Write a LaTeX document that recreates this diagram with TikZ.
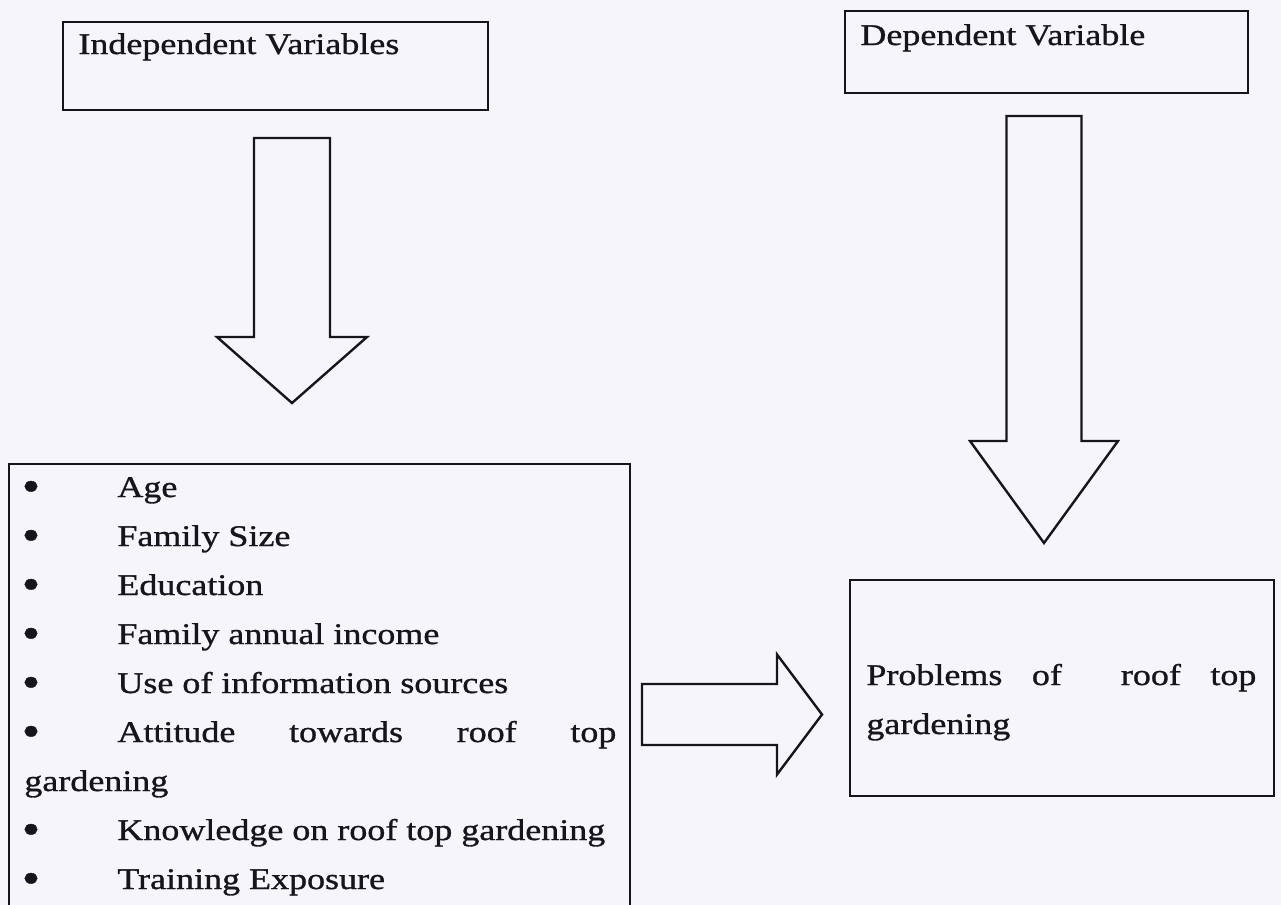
\documentclass[tikz,border=0pt]{standalone}
\usepackage{fontspec}
\setmainfont{Liberation Serif}[FakeStretch=1.2,FakeBold=1]
\usetikzlibrary{calc}
\definecolor{bgColor}{RGB}{246,245,251}
\definecolor{lineColor}{RGB}{22,22,26}

\begin{document}
\begin{tikzpicture}
[boxDecorate/.style={draw=lineColor,line width=1.2pt,inner sep=0pt,anchor=north west},%
  arrowDecorate/.style={draw=lineColor,line width=1.2pt,line join=miter},%
  textDecorate/.style={anchor=base west,inner sep=0pt,text=lineColor,%
    font=\fontsize{15pt}{24.5pt}\selectfont},%
  bulletDecorate/.style={anchor=center,inner sep=0pt,text=lineColor,%
    font=\fontsize{22pt}{22pt}\selectfont},%
  x=0.5pt,y=-0.5pt]
%%
\useasboundingbox (0,0) rectangle (1281,905);
\fill[bgColor] (0,0) rectangle (1281,905);
\clip (0,0) rectangle (1281,905);
%%
%% boxes
\node (indepBox) at (62,21) [boxDecorate,minimum width=212.5pt,minimum height=43.75pt] {};
\node (depBox) at (844,10) [boxDecorate,minimum width=201.5pt,minimum height=41pt] {};
\node (listBox) at (8,463) [boxDecorate,minimum width=310.5pt,minimum height=240pt] {};
\node (probBox) at (849,579) [boxDecorate,minimum width=212pt,minimum height=108pt] {};
%% texts in the boxes
\node (indepTitle) at (78,54) [textDecorate] {Independent Variables};
\node (depTitle) at (860,45) [textDecorate] {Dependent Variable};
\node (probLine1) at (866,685) [textDecorate] {\makebox[195pt][s]{Problems of\ \ roof top}};
\node (probLine2) at (866,734) [textDecorate] {gardening};
%%
%% list of independent variables
\foreach \row/\vartext in {
  0/Age, 1/Family Size, 2/Education, 3/Family annual income,
  4/Use of information sources,
  5/{\makebox[249.5pt][s]{Attitude towards roof top}},
  7/Knowledge on roof top gardening, 8/Training Exposure}
{
  \node (bullet\row) at (31,491+49*\row) [bulletDecorate] {\textbullet};
  \node (item\row) at (117,497+49*\row) [textDecorate] {\vartext};
}
\node (item6) at (24,791) [textDecorate] {gardening};
%%
%% block arrows
\foreach \name/\x/\y in {
  indepTail/292/138, indepHead/292/403,
  depTail/1044/116, depHead/1044/543,
  probTail/642/714.5, probHead/822/714.5}
{
  \coordinate (\name) at (\x,\y);
}
\foreach \startpt/\endpt/\sw/\hw/\hl in {
  indepTail/indepHead/38/75/66, depTail/depHead/37.5/74/102}
{
  \draw[arrowDecorate] ($(\startpt)+(-\sw,0)$) -- ($(\startpt)+(\sw,0)$)
    -- ($(\endpt)+(\sw,-\hl)$) -- ($(\endpt)+(\hw,-\hl)$) -- (\endpt)
    -- ($(\endpt)+(-\hw,-\hl)$) -- ($(\endpt)+(-\sw,-\hl)$) -- cycle;
}
\draw[arrowDecorate] ($(probTail)+(0,-30.5)$) -- ($(probHead)+(-45,-30.5)$)
  -- ($(probHead)+(-45,-60)$) -- (probHead) -- ($(probHead)+(-45,60)$)
  -- ($(probHead)+(-45,30.5)$) -- ($(probTail)+(0,30.5)$) -- cycle;
\end{tikzpicture}
\end{document}
